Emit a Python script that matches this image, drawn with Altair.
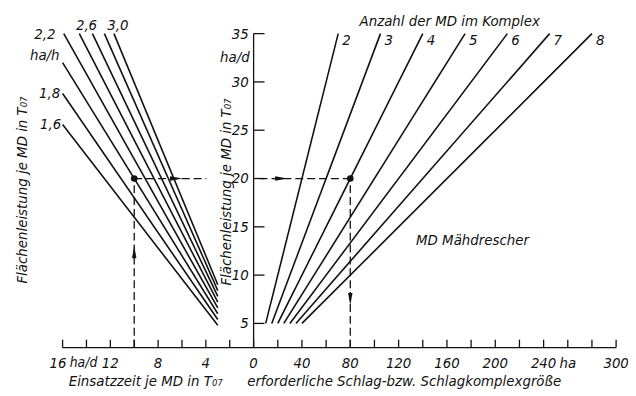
import altair as alt
import pandas as pd

# ---------------- data ----------------
# left panel: area output per hour (ha/h) lines, Flächenleistung vs Einsatzzeit
rates = [1.6, 1.8, 2.0, 2.2, 2.4, 2.6, 2.8, 3.0]
left_top_t = [16, 16, 16, 15.9, 14.6, 13.5, 12.5, 11.7]
left_top_y = [25.6, 28.8, 32.0, 35.0, 35.0, 35.0, 35.0, 35.0]
left_bot_t = [3, 3, 3, 3, 3, 3, 3, 3]
left_bot_y = [4.8, 5.4, 6.0, 6.6, 7.2, 7.8, 8.4, 9.0]

# right panel: number of combines (MD) in the complex
md_count = [2, 3, 4, 5, 6, 7, 8]
right_bot_ha = [10, 15, 20, 25, 30, 35, 40]
right_bot_y = [5, 5, 5, 5, 5, 5, 5]
right_top_ha = [70, 105, 140, 175, 210, 245, 280]
right_top_y = [35, 35, 35, 35, 35, 35, 35]

# axes
y_ticks = [5, 10, 15, 20, 25, 30, 35]
y_labels = ["5", "10", "15", "20", "25", "30", "35"]
t_ticks = [0, 2, 4, 6, 8, 10, 12, 14, 16]
t_label_vals = [12, 8, 4, 0]
t_label_txt = ["12", "8", "4", "0"]
ha_ticks = list(range(20, 301, 20))
ha_label_vals = [40, 80, 120, 160, 200, 240, 260, 300]
ha_label_txt = ["40", "80", "120", "160", "200", "240", "ha", "300"]

# worked example
ex_t = 10
ex_y = 20
ex_ha = 80

# ---------------- scales ----------------
K = 9.88           # one hour on the left scale = 9.88 ha on the right scale
U_MIN, U_MAX = -16 * K - 0.1, 300
Y_MIN, Y_MAX = 2.5, 35
W, H = 559, 317

xs = alt.Scale(domain=[U_MIN, U_MAX], nice=False, zero=False)
ys = alt.Scale(domain=[Y_MIN, Y_MAX], nice=False, zero=False)

FONT = "DejaVu Sans Condensed, Liberation Sans Narrow, Liberation Sans, sans-serif"
INK = "#111111"
NUM = 15
TIT = 15

def txt(**kw):
    base = dict(font=FONT, fontStyle="italic", fontSize=TIT, color=INK)
    base.update(kw)
    return alt.Chart(pd.DataFrame({"d": [0]})).mark_text(**base)

# ---------------- line data ----------------
rows = []
for i, r in enumerate(rates):
    rows.append({"id": f"r{r}", "o": 0, "u": -K * left_top_t[i], "y": left_top_y[i]})
    rows.append({"id": f"r{r}", "o": 1, "u": -K * left_bot_t[i], "y": left_bot_y[i]})
for i, n in enumerate(md_count):
    rows.append({"id": f"n{n}", "o": 0, "u": right_bot_ha[i], "y": right_bot_y[i]})
    rows.append({"id": f"n{n}", "o": 1, "u": right_top_ha[i], "y": right_top_y[i]})
lines_df = pd.DataFrame(rows)

lines = alt.Chart(lines_df).mark_line(color=INK, strokeWidth=1.6).encode(
    x=alt.X("u:Q", scale=xs, axis=None),
    y=alt.Y("y:Q", scale=ys, axis=None),
    detail="id:N",
    order="o:Q",
)

# right line labels
rlab_df = pd.DataFrame({"u": right_top_ha, "y": right_top_y, "t": [str(n) for n in md_count]})
rlab = alt.Chart(rlab_df).mark_text(font=FONT, fontStyle="italic", fontSize=NUM, color=INK,
                                    align="left", baseline="middle", dx=4, dy=6).encode(
    x=alt.X("u:Q", scale=xs), y=alt.Y("y:Q", scale=ys), text="t:N")

# left line labels (placed relative to line tops)
left_label_spec = [
    (0, "1,6", -12, 0),
    (1, "1,8", -13, 0),
    (2, "ha/h", -18, -8),
    (3, "2,2", -19, 0),
    (5, "2,6", -6, -9),
    (7, "3,0", 4, -9),
]
llabs = []
for idx, s, dx, dy in left_label_spec:
    llabs.append(alt.Chart(pd.DataFrame({"u": [-K * left_top_t[idx]], "y": [left_top_y[idx]], "t": [s]}))
                 .mark_text(font=FONT, fontStyle="italic", fontSize=NUM, color=INK,
                            align="center", baseline="middle", dx=dx, dy=dy)
                 .encode(x=alt.X("u:Q", scale=xs), y=alt.Y("y:Q", scale=ys), text="t:N"))

# ---------------- manual axes ----------------
base_line = alt.Chart(pd.DataFrame({"d": [0]})).mark_rule(color=INK, strokeWidth=1.3).encode(
    x=alt.datum(U_MIN, scale=xs), x2=alt.datum(U_MAX), y=alt.value(H))

bt_df = pd.DataFrame({"u": [-K * t for t in t_ticks] + ha_ticks})
bticks = alt.Chart(bt_df).mark_rule(color=INK, strokeWidth=1.3).encode(
    x=alt.X("u:Q", scale=xs), y=alt.value(H), y2=alt.value(H - 8))

bl_df = pd.DataFrame({"u": [-K * t for t in t_label_vals] + ha_label_vals,
                      "t": t_label_txt + ha_label_txt})
blabels = alt.Chart(bl_df).mark_text(font=FONT, fontStyle="italic", fontSize=NUM, color=INK,
                                     baseline="middle").encode(
    x=alt.X("u:Q", scale=xs), y=alt.value(H + 16), text="t:N")
label16 = alt.Chart(pd.DataFrame({"u": [-K * 16], "t": ["16"]})).mark_text(
    font=FONT, fontStyle="italic", fontSize=NUM, color=INK, baseline="middle", align="right", dx=4).encode(
    x=alt.X("u:Q", scale=xs), y=alt.value(H + 16), text="t:N")
hadlabel = alt.Chart(pd.DataFrame({"u": [-K * 14], "t": ["ha/d"]})).mark_text(
    font=FONT, fontStyle="italic", fontSize=14, color=INK, baseline="middle", align="left", dx=-17).encode(
    x=alt.X("u:Q", scale=xs), y=alt.value(H + 16), text="t:N")

y_line = alt.Chart(pd.DataFrame({"d": [0]})).mark_rule(color=INK, strokeWidth=1.3).encode(
    x=alt.datum(0, scale=xs), y=alt.datum(Y_MIN, scale=ys), y2=alt.datum(Y_MAX))

yt_df = pd.DataFrame({"y": y_ticks, "t": y_labels})
yticks = alt.Chart(yt_df).mark_rule(color=INK, strokeWidth=1.3, x2Offset=11).encode(
    x=alt.datum(0, scale=xs), x2=alt.datum(0), y=alt.Y("y:Q", scale=ys))
ylabels = alt.Chart(yt_df).mark_text(font=FONT, fontStyle="italic", fontSize=NUM, color=INK,
                                     align="right", baseline="middle", dx=-5).encode(
    x=alt.datum(0, scale=xs), y=alt.Y("y:Q", scale=ys), text="t:N")
yunit = alt.Chart(pd.DataFrame({"y": [32.6], "t": ["ha/d"]})).mark_text(
    font=FONT, fontStyle="italic", fontSize=NUM, color=INK, align="right", baseline="middle", dx=-4).encode(
    x=alt.datum(0, scale=xs), y=alt.Y("y:Q", scale=ys), text="t:N")

# ---------------- worked example (dashed) ----------------
seg_df = pd.DataFrame({
    "u": [-K * ex_t, -K * ex_t, 5, ex_ha],
    "u2": [-K * ex_t, -39, ex_ha, ex_ha],
    "y": [Y_MIN, ex_y, ex_y, Y_MIN],
    "y2": [ex_y, ex_y, ex_y, ex_y],
})
dashed = alt.Chart(seg_df).mark_rule(color=INK, strokeWidth=1.3, strokeDash=[8, 4]).encode(
    x=alt.X("u:Q", scale=xs), x2="u2:Q", y=alt.Y("y:Q", scale=ys), y2="y2:Q")

dots = alt.Chart(pd.DataFrame({"u": [-K * ex_t, ex_ha], "y": [ex_y, ex_y]})).mark_point(
    filled=True, color=INK, size=45, opacity=1).encode(
    x=alt.X("u:Q", scale=xs), y=alt.Y("y:Q", scale=ys))

arrow_df = pd.DataFrame({
    "u": [-K * ex_t, -64, 23, ex_ha],
    "y": [12.4, ex_y, ex_y, 7.5],
    "s": ["M-0.35,1L0,-1L0.35,1Z", "M-1,-0.35L1,0L-1,0.35Z", "M-1,-0.35L1,0L-1,0.35Z", "M-0.35,-1L0,1L0.35,-1Z"],
})
arrows = alt.Chart(arrow_df).mark_point(filled=True, color=INK, size=160, opacity=1).encode(
    x=alt.X("u:Q", scale=xs), y=alt.Y("y:Q", scale=ys),
    shape=alt.Shape("s:N", scale=None))

# ---------------- titles ----------------
t_left = txt(text="Flächenleistung je MD in T₀₇", angle=270, align="center", baseline="middle").encode(
    x=alt.value(-41), y=alt.value(158))
t_mid = txt(text="Flächenleistung je MD in T₀₇", angle=270, align="center", baseline="middle").encode(
    x=alt.value(165), y=alt.value(160))
t_bl = txt(text="Einsatzzeit je MD in T₀₇", align="center", baseline="middle").encode(
    x=alt.value(84), y=alt.value(H + 34))
t_br = txt(text="erforderliche Schlag-bzw. Schlagkomplexgröße", align="center", baseline="middle").encode(
    x=alt.value(345), y=alt.value(H + 34))
t_top = txt(text="Anzahl der MD im Komplex", align="center", baseline="middle").encode(
    x=alt.value(391), y=alt.value(-13))
t_md = txt(text="MD Mähdrescher", align="center", baseline="middle").encode(
    x=alt.value(414), y=alt.value(208))

chart = alt.layer(
    lines, dashed, base_line, bticks, y_line, yticks, ylabels, yunit, blabels, label16, hadlabel,
    rlab, *llabs, dots, arrows, t_left, t_mid, t_bl, t_br, t_top, t_md
).properties(
    width=W, height=H,
    autosize=alt.AutoSizeParams(type="none"),
    padding={"left": 55, "top": 24, "right": 12, "bottom": 44},
    background="white",
).configure_view(stroke=None)

chart.save("out.html", embed_options={"renderer": "svg", "actions": False})
